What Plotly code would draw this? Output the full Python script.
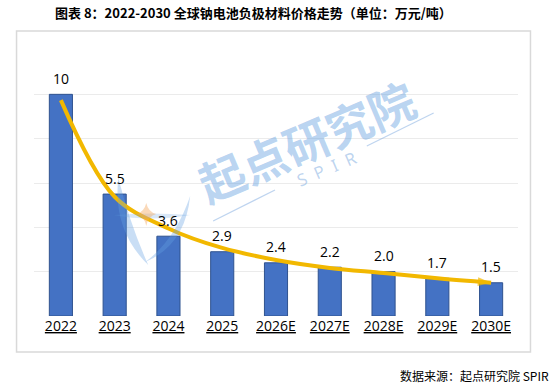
import plotly.graph_objects as go

# ---- data ----
categories = ["2022", "2023", "2024", "2025", "2026E", "2027E", "2028E", "2029E", "2030E"]
prices = [10, 5.5, 3.6, 2.9, 2.4, 2.2, 2.0, 1.7, 1.5]
price_labels = ["10", "5.5", "3.6", "2.9", "2.4", "2.2", "2.0", "1.7", "1.5"]
trend = [9.74, 5.38, 3.95, 3.07, 2.53, 2.17, 1.94, 1.70, 1.50]

title_text = "图表 8：2022-2030 全球钠电池负极材料价格走势（单位：万元/吨）"
source_text = "数据来源：起点研究院 SPIR"

W, H = 556, 387
L, R, T, B = 33.5, 37.5, 50, 71
PW, PH = W - L - R, H - T - B


def px(x):
    return (x - L) / PW


def py(y):
    return (H - B - y) / PH


fig = go.Figure()

fig.add_trace(go.Bar(
    x=categories, y=prices,
    marker=dict(color="#4472C4", line=dict(color="#2F528F", width=1)),
    hoverinfo="skip",
))

fig.add_trace(go.Scatter(
    x=categories, y=trend, mode="lines+markers",
    line=dict(color="#F2B800", width=4, shape="spline", smoothing=1.0),
    marker=dict(symbol=["circle"] * (len(trend) - 1) + ["arrow"],
                size=[0] * (len(trend) - 1) + [14],
                angleref="previous", color="#F2B800",
                line=dict(width=0)),
    hoverinfo="skip",
))

annotations = []
for i, (v, t) in enumerate(zip(prices, price_labels)):
    annotations.append(dict(x=i, y=v, xref="x", yref="y", text=t, showarrow=False,
                            yanchor="middle", yshift=16,
                            font=dict(family="Open Sans, Noto Sans", size=14, color="#000000")))

annotations.append(dict(x=px(253), y=py(13), xref="paper", yref="paper", text="<b>" + title_text + "</b>",
                        showarrow=False, xanchor="center", yanchor="middle",
                        font=dict(family="Noto Sans CJK SC", size=13, color="#000000")))
annotations.append(dict(x=px(552), y=py(375), xref="paper", yref="paper", text=source_text,
                        showarrow=False, xanchor="right", yanchor="middle",
                        font=dict(family="Noto Sans CJK SC", size=12, color="#000000")))
# watermark
annotations.append(dict(x=px(306), y=py(140), xref="paper", yref="paper", text="<b>起点研究院</b>",
                        showarrow=False, textangle=-23,
                        font=dict(family="Noto Sans CJK SC", size=46, color="rgba(100,160,225,0.45)")))
annotations.append(dict(x=px(327), y=py(168), xref="paper", yref="paper", text="S  P  I  R",
                        showarrow=False, textangle=-23,
                        font=dict(family="Noto Sans", size=17, color="rgba(110,160,220,0.45)")))

shapes = [
    dict(type="rect", xref="paper", yref="paper", x0=px(16), x1=px(531), y0=py(352), y1=py(31),
         line=dict(color="#D9D9D9", width=1.5), fillcolor="rgba(0,0,0,0)", layer="below"),
    dict(type="line", xref="paper", yref="paper", x0=px(213), y0=py(221), x1=px(275), y1=py(190),
         line=dict(color="rgba(110,160,220,0.45)", width=1.2)),
    dict(type="line", xref="paper", yref="paper", x0=px(367), y0=py(146), x1=px(434), y1=py(113),
         line=dict(color="rgba(110,160,220,0.45)", width=1.2)),
]


def path(points):
    s = "M %f,%f" % (px(points[0][0]), py(points[0][1]))
    for i in range(1, len(points), 2):
        (cx, cy), (ex, ey) = points[i], points[i + 1]
        s += " Q %f,%f %f,%f" % (px(cx), py(cy), px(ex), py(ey))
    return s + " Z"


# logo blades (watermark)
shapes.append(dict(type="path", xref="paper", yref="paper",
                   path=path([(118, 178), (112, 230), (148, 265), (130, 225), (118, 178)]),
                   fillcolor="rgba(100,160,225,0.35)", line=dict(width=0)))
shapes.append(dict(type="path", xref="paper", yref="paper",
                   path=path([(190, 196), (185, 245), (145, 262), (175, 240), (190, 196)]),
                   fillcolor="rgba(100,160,225,0.35)", line=dict(width=0)))
shapes.append(dict(type="path", xref="paper", yref="paper",
                   path=path([(113, 215), (150, 222), (190, 215), (150, 212), (113, 215)]),
                   fillcolor="rgba(100,160,225,0.25)", line=dict(width=0)))
shapes.append(dict(type="path", xref="paper", yref="paper",
                   path=path([(146, 203), (148, 212), (156, 214), (148, 216), (146, 226), (144, 216),
                              (136, 214), (144, 212), (146, 203)]),
                   fillcolor="rgba(245,170,100,0.45)", line=dict(width=0)))

fig.update_layout(
    width=W, height=H,
    margin=dict(l=L, r=R, t=T, b=B),
    paper_bgcolor="white", plot_bgcolor="white",
    showlegend=False,
    bargap=0.57,
    annotations=annotations,
    shapes=shapes,
    xaxis=dict(type="category", range=[-0.5, 8.5], showgrid=False, showline=False, ticks="", automargin=False,
               tickfont=dict(family="Open Sans, Noto Sans", size=14, color="#000000", lineposition="under")),
    yaxis=dict(range=[0, 12], dtick=2, showgrid=True, gridcolor="#EBEBEB", gridwidth=1, automargin=False,
               showticklabels=False, zeroline=False, showline=False),
)

fig.write_html("out.html", config={"displayModeBar": False},
               post_script="document.body.style.margin='0px';")
